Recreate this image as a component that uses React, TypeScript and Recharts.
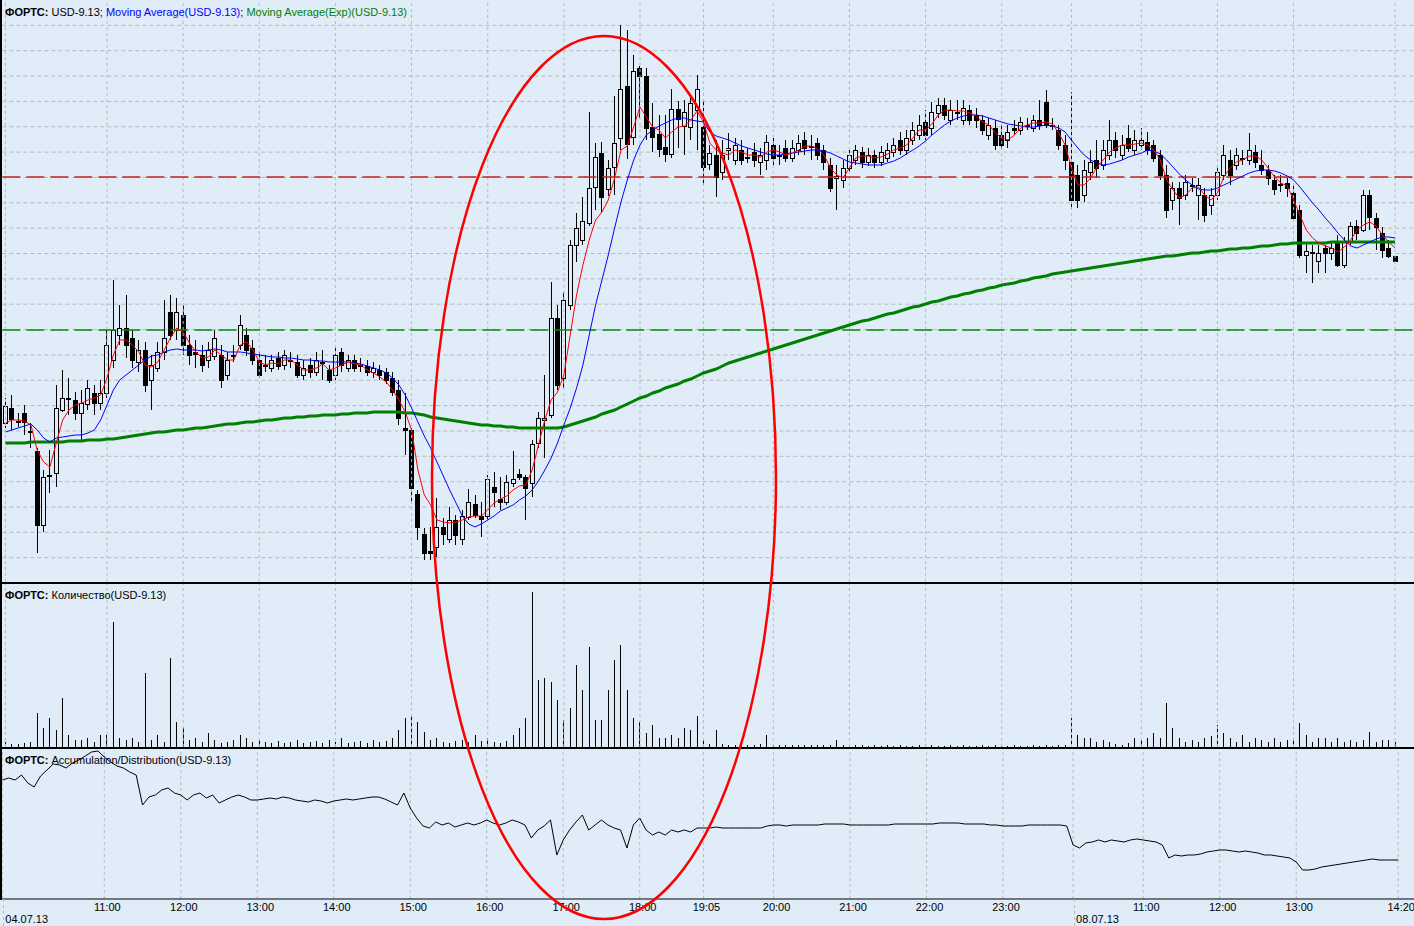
import { ComposedChart, Bar, Line, XAxis, YAxis, CartesianGrid, ReferenceLine } from "recharts";

// 5-minute candles, USD-9.13 (FORTS), 04.07.13 10:00 .. 08.07.13 14:20
const OPEN = [
  33177,33192,33179,33187,33169,33149,33075,33125,33127,33190,
  33202,33200,33187,33196,33207,33197,33207,33240,33265,33272,
  33262,33238,33250,33220,33232,33248,33288,33270,33285,33255,
  33248,33245,33240,33244,33245,33225,33245,33255,33265,33252,
  33240,33235,33232,33242,33235,33240,33238,33225,33235,33228,
  33238,33230,33225,33248,33232,33240,33235,33234,33228,33230,
  33228,33222,33210,33172,33170,33106,33066,33049,33053,33073,
  33061,33080,33061,33083,33096,33084,33084,33113,33101,33098,
  33117,33126,33123,33117,33157,33180,33185,33282,33222,33295,
  33355,33360,33377,33413,33447,33411,33433,33462,33514,33463,
  33532,33524,33473,33466,33453,33446,33491,33474,33473,33490,
  33473,33436,33445,33428,33450,33440,33450,33443,33448,33438,
  33440,33455,33445,33452,33442,33450,33460,33454,33457,33450,
  33435,33422,33420,33432,33440,33448,33438,33445,33438,33442,
  33448,33460,33450,33460,33465,33478,33472,33487,33495,33480,
  33488,33480,33490,33485,33480,33465,33472,33465,33460,33472,
  33470,33475,33472,33480,33498,33475,33470,33455,33438,33425,
  33405,33428,33440,33435,33445,33460,33445,33462,33450,33455,
  33458,33455,33445,33425,33400,33412,33405,33415,33405,33405,
  33395,33405,33425,33440,33435,33442,33440,33448,33435,33430,
  33420,33416,33417,33407,33390,33345,33348,33339,33352,33347,
  33357,33335,33358,33374,33370,33405,33382,33367,33352,33344,
];
const HIGH = [
  33202,33205,33187,33195,33177,33152,33130,33150,33215,33230,
  33222,33208,33210,33220,33215,33220,33270,33320,33295,33305,
  33270,33260,33258,33245,33258,33300,33305,33302,33295,33265,
  33260,33255,33258,33270,33255,33248,33255,33285,33272,33260,
  33248,33245,33245,33248,33250,33248,33245,33240,33242,33248,
  33250,33235,33252,33252,33245,33245,33242,33240,33238,33235,
  33232,33228,33220,33207,33172,33110,33072,33073,33102,33082,
  33093,33085,33090,33111,33105,33098,33125,33128,33123,33125,
  33149,33131,33125,33160,33188,33225,33318,33295,33308,33360,
  33387,33403,33488,33457,33458,33440,33504,33575,33570,33545,
  33534,33532,33497,33485,33485,33511,33499,33500,33505,33525,
  33500,33455,33460,33460,33467,33462,33460,33452,33457,33452,
  33465,33462,33455,33460,33460,33465,33468,33465,33462,33455,
  33442,33435,33440,33450,33455,33453,33452,33450,33454,33457,
  33462,33468,33470,33478,33485,33490,33498,33502,33502,33500,
  33500,33500,33495,33492,33485,33482,33480,33475,33475,33480,
  33483,33482,33485,33500,33510,33482,33475,33465,33508,33435,
  33440,33450,33460,33460,33480,33468,33465,33475,33470,33472,
  33468,33460,33450,33435,33418,33418,33425,33422,33422,33412,
  33412,33435,33455,33450,33452,33450,33467,33455,33450,33435,
  33425,33425,33422,33415,33395,33357,33355,33355,33355,33357,
  33365,33363,33378,33380,33410,33410,33387,33373,33360,33344,
];
const LOW = [
  33172,33170,33173,33165,33152,33047,33068,33107,33113,33188,
  33185,33180,33160,33190,33185,33190,33202,33232,33255,33242,
  33232,33228,33208,33190,33228,33240,33260,33260,33245,33235,
  33232,33228,33232,33240,33212,33220,33238,33250,33244,33235,
  33222,33228,33228,33230,33230,33232,33222,33220,33222,33224,
  33220,33217,33220,33228,33228,33228,33228,33224,33222,33220,
  33216,33204,33175,33145,33098,33060,33040,33040,33043,33055,
  33057,33055,33055,33080,33082,33063,33080,33093,33090,33095,
  33113,33120,33080,33103,33152,33142,33182,33210,33212,33290,
  33338,33355,33374,33390,33387,33404,33405,33450,33441,33455,
  33482,33460,33448,33443,33438,33442,33452,33445,33460,33450,
  33415,33430,33403,33420,33440,33435,33435,33437,33433,33425,
  33430,33435,33435,33438,33438,33445,33445,33440,33440,33430,
  33408,33390,33412,33428,33435,33432,33434,33432,33434,33438,
  33443,33445,33445,33455,33460,33460,33465,33482,33480,33475,
  33480,33475,33475,33472,33465,33460,33450,33450,33452,33465,
  33465,33470,33468,33470,33472,33470,33450,33430,33390,33392,
  33398,33420,33422,33430,33440,33442,33440,33448,33445,33450,
  33445,33438,33420,33382,33390,33375,33400,33408,33380,33378,
  33385,33400,33420,33415,33430,33435,33435,33432,33425,33415,
  33405,33408,33403,33380,33342,33327,33317,33327,33327,33340,
  33333,33332,33355,33360,33368,33370,33350,33342,33342,33338,
];
const CLOSE = [
  33194,33181,33178,33178,33168,33075,33123,33124,33192,33202,
  33201,33187,33197,33212,33197,33207,33255,33270,33272,33255,
  33240,33250,33215,33235,33248,33262,33265,33288,33255,33245,
  33246,33235,33250,33262,33220,33240,33244,33275,33250,33240,
  33225,33234,33240,33234,33245,33239,33225,33232,33228,33240,
  33237,33220,33245,33235,33240,33232,33234,33228,33232,33225,
  33220,33208,33182,33170,33112,33073,33047,33047,33073,33066,
  33080,33065,33084,33098,33085,33081,33121,33108,33098,33118,
  33121,33123,33112,33156,33182,33182,33282,33215,33300,33355,
  33372,33379,33412,33443,33403,33432,33457,33511,33456,33529,
  33524,33472,33463,33451,33446,33491,33481,33488,33497,33511,
  33433,33447,33423,33445,33452,33455,33440,33442,33440,33445,
  33458,33442,33444,33442,33452,33457,33452,33453,33445,33438,
  33412,33424,33432,33445,33450,33438,33445,33438,33448,33450,
  33455,33450,33462,33470,33475,33465,33488,33495,33485,33490,
  33487,33492,33480,33480,33470,33475,33455,33455,33468,33470,
  33478,33474,33480,33475,33475,33474,33455,33440,33400,33400,
  33430,33438,33432,33450,33460,33450,33455,33452,33460,33460,
  33450,33442,33425,33390,33412,33402,33418,33414,33415,33385,
  33405,33428,33445,33425,33445,33441,33450,33438,33430,33422,
  33411,33415,33412,33382,33345,33349,33347,33347,33347,33352,
  33335,33358,33374,33367,33405,33383,33373,33350,33344,33339,
];
// Moving Average (short, red)
const MA_FAST = [
  33177,33180,33180,33179,33175,33150,33138,33133,33157,33180,
  33190,33195,33197,33200,33202,33205,33222,33245,33260,33260,
  33255,33248,33235,33233,33238,33250,33262,33272,33268,33257,
  33248,33242,33243,33250,33245,33240,33240,33255,33258,33250,
  33238,33235,33237,33236,33240,33240,33235,33230,33230,33232,
  33236,33230,33232,33235,33238,33236,33235,33230,33227,33223,
  33218,33210,33200,33188,33170,33130,33105,33095,33080,33078,
  33077,33078,33080,33083,33084,33084,33090,33097,33101,33104,
  33110,33114,33115,33130,33155,33180,33200,33208,33225,33265,
  33305,33335,33360,33380,33388,33400,33422,33450,33454,33473,
  33493,33483,33473,33470,33462,33468,33473,33474,33480,33489,
  33478,33457,33450,33447,33445,33450,33448,33445,33445,33443,
  33448,33450,33448,33445,33447,33450,33454,33454,33451,33445,
  33432,33425,33422,33432,33442,33444,33444,33442,33443,33446,
  33450,33452,33455,33462,33470,33470,33476,33485,33490,33490,
  33489,33489,33487,33484,33478,33475,33467,33462,33460,33465,
  33472,33475,33477,33477,33478,33476,33467,33455,33432,33415,
  33415,33422,33433,33440,33448,33452,33455,33455,33456,33457,
  33455,33450,33440,33420,33410,33402,33405,33412,33413,33405,
  33400,33407,33423,33432,33438,33440,33444,33444,33440,33432,
  33423,33417,33414,33400,33385,33370,33362,33357,33354,33352,
  33348,33353,33360,33370,33375,33378,33374,33365,33358,33352,
];
// Moving Average (USD-9.13), blue
const MA_SLOW = [
  33168,33170,33172,33174,33176,33170,33162,33158,33162,33163,
  33164,33165,33165,33167,33170,33180,33195,33210,33220,33225,
  33230,33235,33240,33244,33245,33248,33250,33251,33250,33250,
  33250,33249,33250,33251,33250,33248,33248,33248,33247,33246,
  33245,33244,33243,33243,33242,33242,33241,33240,33240,33239,
  33239,33238,33238,33238,33238,33237,33236,33234,33232,33230,
  33227,33222,33215,33205,33192,33178,33164,33152,33138,33124,
  33110,33097,33084,33076,33073,33076,33080,33084,33089,33092,
  33095,33100,33104,33110,33119,33130,33142,33157,33175,33192,
  33212,33235,33265,33295,33320,33345,33372,33398,33420,33440,
  33455,33465,33470,33474,33477,33480,33482,33482,33480,33479,
  33478,33468,33464,33462,33460,33457,33454,33452,33450,33448,
  33446,33445,33445,33446,33447,33448,33449,33450,33450,33449,
  33447,33444,33441,33438,33437,33436,33435,33435,33435,33437,
  33439,33442,33446,33450,33454,33459,33465,33470,33475,33479,
  33482,33484,33485,33485,33484,33482,33480,33478,33476,33475,
  33474,33473,33473,33474,33475,33474,33472,33468,33460,33452,
  33445,33440,33437,33435,33436,33438,33440,33443,33445,33447,
  33450,33449,33446,33440,33433,33426,33420,33415,33411,33410,
  33410,33412,33415,33418,33421,33424,33427,33429,33430,33430,
  33429,33427,33424,33420,33413,33405,33397,33390,33382,33375,
  33367,33360,33354,33352,33355,33358,33361,33363,33363,33362,
];
// Moving Average (Exp), green
const MA_EXP = [
  33157,33157,33157,33157,33158,33158,33158,33158,33158,33158,
  33159,33159,33159,33160,33160,33160,33161,33161,33162,33163,
  33164,33165,33166,33167,33168,33168,33169,33170,33170,33171,
  33172,33172,33173,33174,33175,33176,33176,33177,33178,33178,
  33179,33180,33180,33181,33182,33182,33183,33183,33184,33184,
  33185,33185,33185,33186,33186,33187,33187,33187,33188,33188,
  33188,33188,33188,33187,33187,33186,33185,33183,33182,33181,
  33180,33179,33178,33177,33176,33175,33175,33174,33174,33173,
  33173,33172,33172,33172,33172,33172,33172,33172,33173,33175,
  33177,33179,33181,33183,33186,33188,33190,33193,33196,33199,
  33202,33204,33207,33209,33212,33214,33216,33219,33221,33224,
  33227,33229,33231,33234,33237,33239,33241,33243,33245,33247,
  33249,33251,33253,33255,33257,33259,33261,33263,33265,33267,
  33269,33271,33273,33275,33277,33279,33280,33282,33284,33286,
  33287,33289,33291,33293,33294,33296,33298,33299,33301,33303,
  33304,33306,33307,33309,33310,33312,33313,33315,33316,33317,
  33319,33320,33322,33323,33324,33326,33327,33328,33329,33330,
  33331,33332,33333,33334,33335,33336,33337,33338,33339,33340,
  33341,33342,33343,33344,33344,33345,33346,33347,33347,33348,
  33349,33349,33350,33351,33351,33352,33352,33353,33354,33354,
  33355,33356,33356,33357,33357,33357,33357,33357,33357,33358,
  33358,33358,33358,33358,33358,33358,33358,33358,33358,33358,
];
// Количество (contracts)
const VOLUME = [
  50,30,30,40,50,
  340,190,290,170,490,120,70,70,90,50,
  120,120,1250,90,70,90,50,740,70,120,
  50,890,250,190,70,90,50,140,70,40,
  50,70,120,90,50,70,50,40,60,40,
  50,70,40,50,60,40,70,50,90,40,
  50,60,40,70,50,60,90,170,290,310,
  250,150,70,90,50,40,60,70,50,120,
  60,90,50,40,60,120,190,290,1550,670,
  690,650,470,270,390,820,570,1000,270,270,
  570,870,1020,570,290,250,140,220,90,90,
  120,90,190,170,310,70,30,170,30,20,
  20,30,20,20,30,120,20,20,20,20,
  20,20,20,20,20,20,70,20,10,20,
  20,10,20,10,20,10,20,10,10,20,
  10,20,10,10,20,10,20,10,10,20,
  10,20,10,10,20,10,10,20,10,20,
  10,20,20,
  290,120,90,90,50,70,50,30,20,40,
  90,70,90,140,90,440,190,90,50,70,
  50,90,110,220,140,90,50,120,50,90,
  70,50,90,50,70,90,240,120,50,90,
  90,50,90,50,70,50,70,150,50,70,70,50,
];
// Accumulation/Distribution
const ACC_DIST = [
  11900,12100,11900,12400,11600,11200,12300,12900,13500,13400,
  13100,13600,13900,14300,14700,14800,14200,13700,13300,13100,
  12700,12400,9400,10200,10400,10900,11100,10600,10400,9900,
  10400,10600,10100,10400,9600,9900,10200,10400,10200,9900,
  9900,10000,10100,10000,10200,10100,9900,9800,9700,9900,
  9800,9600,9800,9900,10000,9900,10000,10100,10200,10200,
  10000,9700,9400,10600,9100,8100,7300,7100,7700,7400,
  7600,7200,7400,7600,7400,7600,7900,7600,7400,7600,
  7900,7700,7400,6100,6900,7300,7900,4400,5900,6900,
  7700,8400,6900,7400,7900,7400,7100,6900,5100,7400,
  8100,6900,6400,6700,6400,6900,6700,6900,6700,7100,
  7100,7100,7200,7100,7100,7100,7100,7100,7100,7100,
  7300,7400,7400,7300,7400,7400,7400,7400,7400,7500,
  7500,7500,7500,7400,7400,7400,7400,7400,7400,7400,
  7500,7500,7500,7500,7500,7500,7500,7600,7600,7600,
  7600,7500,7500,7500,7500,7400,7400,7300,7300,7300,
  7300,7400,7400,7400,7400,7400,7400,7300,5400,5100,
  5600,5700,5900,5700,5900,5800,5700,5900,6000,5900,
  5800,5700,5400,4100,4400,4300,4400,4400,4500,4700,
  4800,4900,4900,4800,4700,4800,4700,4600,4400,4400,
  4300,4200,4100,3700,2900,2900,3000,3200,3300,3400,
  3500,3600,3700,3800,3900,4000,3900,3900,3900,3900,
];

const TIME_TICKS = [16, 28, 40, 52, 64, 76, 88, 100, 110, 121, 133, 145, 157, 179, 191, 203, 219];
const TIME_LABELS = ["11:00", "12:00", "13:00", "14:00", "15:00", "16:00", "17:00", "18:00", "19:05", "20:00", "21:00", "22:00", "23:00", "11:00", "12:00", "13:00", "14:20"];
const DATE_TICKS = [0, 168];
const DATE_LABELS = ["04.07.13", "08.07.13"];
const LEVELS = [33423, 33270];

const BG = "#e1ecf9";
const GRID = "#b9b9b9";
const FONT = "'Liberation Sans', Arial, sans-serif";
const CHART_W = 1417.3;
const ML = 2.33;
const PAD = 3;

const rows: any[] = OPEN.map((o, i) => ({
  i,
  o,
  h: HIGH[i],
  l: LOW[i],
  c: CLOSE[i],
  range: [LOW[i], HIGH[i]],
  fast: MA_FAST[i],
  slow: MA_SLOW[i],
  exp: MA_EXP[i],
  vol: VOLUME[i],
  ad: ACC_DIST[i],
}));
for (let k = 0; k < PAD; k++) rows.push({ i: OPEN.length + k });

const ALL_TICKS = [...DATE_TICKS, ...TIME_TICKS].sort((a, b) => a - b);

const Candle = (props: any) => {
  const { x, y, width, height, payload } = props;
  if (!payload || payload.o == null) return null;
  const { o, h, l, c } = payload;
  const top = Math.min(y, y + height);
  const hgt = Math.abs(height);
  const toY = (v: number) => (h === l ? top : top + ((h - v) / (h - l)) * hgt);
  const cx = Math.floor(x + width / 2);
  const bTop = Math.round(toY(Math.max(o, c)));
  const bBot = Math.round(toY(Math.min(o, c)));
  const up = c > o;
  return (
    <g>
      <line x1={cx + 0.5} x2={cx + 0.5} y1={Math.round(top)} y2={Math.round(top + hgt)} stroke="#000" strokeWidth={1} />
      {bBot - bTop < 1 ? (
        <line x1={cx - 2} x2={cx + 3} y1={bTop + 0.5} y2={bTop + 0.5} stroke="#000" strokeWidth={1} />
      ) : up ? (
        <rect x={cx - 1.5} y={bTop + 0.5} width={4} height={bBot - bTop} fill={BG} stroke="#000" strokeWidth={1} />
      ) : (
        <rect x={cx - 2} y={bTop} width={5} height={bBot - bTop + 1} fill="#000" />
      )}
    </g>
  );
};

const VolStick = (props: any) => {
  const { x, y, width, height, payload } = props;
  if (!payload || payload.vol == null) return null;
  const cx = Math.floor(x + width / 2) + 0.5;
  return <line x1={cx} x2={cx} y1={Math.round(y)} y2={Math.round(y + height)} stroke="#000" strokeWidth={1} />;
};

const TimeTick = (props: any) => {
  const { x, y, payload } = props;
  const v = payload.value;
  const d = DATE_TICKS.indexOf(v);
  if (d >= 0) {
    return (
      <g>
        <line x1={Math.floor(x) + 1.5} x2={Math.floor(x) + 1.5} y1={y - 8} y2={y + 30} stroke={GRID} strokeDasharray="3 3" />
        <text x={x + 3} y={y + 16} fontSize={11} fontFamily={FONT} fill="#000">
          {DATE_LABELS[d]}
        </text>
      </g>
    );
  }
  const t = TIME_TICKS.indexOf(v);
  if (t < 0) return null;
  return (
    <text x={x + 3} y={y + 4} fontSize={11} fontFamily={FONT} fill="#000" textAnchor="middle">
      {TIME_LABELS[t]}
    </text>
  );
};

const vLines = () =>
  ALL_TICKS.map((t) => (
    <ReferenceLine key={"v" + t} x={t} stroke={GRID} strokeDasharray="3 3" ifOverflow="extendDomain" />
  ));

const priceGrid = Array.from({ length: 23 }, (_, k) => 25.35 * (k + 1));

const Title = ({ top, children }: any) => (
  <div style={{ position: "absolute", left: 5, top, fontFamily: FONT, fontSize: 11, lineHeight: "14px", whiteSpace: "nowrap" }}>
    <b>ФОРТС:</b> {children}
  </div>
);

export default function App() {
  return (
    <div style={{ position: "relative", width: 1414, height: 926, overflow: "hidden", background: BG }}>
      <style>{"body{margin:0}"}</style>

      {/* price panel */}
      <div style={{ position: "absolute", left: 0, top: 0 }}>
        <ComposedChart width={CHART_W} height={582} data={rows} margin={{ top: 0, right: 0, bottom: 0, left: ML }}>
          <CartesianGrid vertical={false} horizontalPoints={priceGrid} stroke={GRID} strokeDasharray="4 3" />
          <XAxis dataKey="i" type="category" hide />
          <YAxis hide domain={[33018, 33600]} allowDataOverflow />
          {vLines()}
          <ReferenceLine y={LEVELS[0]} stroke="#c8201e" strokeWidth={1.5} strokeDasharray="18 6" />
          <ReferenceLine y={LEVELS[1]} stroke="#0a8a0a" strokeWidth={1.5} strokeDasharray="18 6" />
          <Bar dataKey="range" shape={(p: any) => <Candle {...p} />} isAnimationActive={false} />
          <Line dataKey="exp" stroke="#008000" strokeWidth={3} dot={false} isAnimationActive={false} />
          <Line dataKey="slow" stroke="#0000ff" strokeWidth={1} dot={false} isAnimationActive={false} />
          <Line dataKey="fast" stroke="#ff0000" strokeWidth={1} dot={false} isAnimationActive={false} />
        </ComposedChart>
      </div>

      {/* volume panel */}
      <div style={{ position: "absolute", left: 0, top: 584 }}>
        <ComposedChart width={CHART_W} height={163} data={rows} margin={{ top: 0, right: 0, bottom: 0, left: ML }}>
          <XAxis dataKey="i" type="category" hide />
          <YAxis hide domain={[0, 1630]} allowDataOverflow />
          {vLines()}
          <Bar dataKey="vol" shape={(p: any) => <VolStick {...p} />} isAnimationActive={false} />
        </ComposedChart>
      </div>

      {/* accumulation / distribution panel */}
      <div style={{ position: "absolute", left: 0, top: 749 }}>
        <ComposedChart width={CHART_W} height={177} data={rows} margin={{ top: 0, right: 0, bottom: 0, left: ML }}>
          <XAxis
            dataKey="i"
            type="category"
            height={27}
            ticks={ALL_TICKS}
            interval={0}
            tickLine={false}
            axisLine={{ stroke: "#000", strokeWidth: 1 }}
            tick={(p: any) => <TimeTick {...p} />}
          />
          <YAxis hide domain={[0, 15000]} allowDataOverflow />
          {vLines()}
          <Line dataKey="ad" stroke="#000" strokeWidth={1} dot={false} isAnimationActive={false} />
        </ComposedChart>
      </div>

      {/* frame */}
      <div style={{ position: "absolute", left: 0, top: 0, width: 2, height: 900, background: "#000" }} />
      <div style={{ position: "absolute", left: 0, top: 582, width: 1414, height: 2, background: "#000" }} />
      <div style={{ position: "absolute", left: 0, top: 747, width: 1414, height: 2, background: "#000" }} />

      <div style={{ position: "absolute", left: 5, top: 5, fontFamily: FONT, fontSize: 11, lineHeight: "14px", whiteSpace: "nowrap" }}>
        <b>ФОРТС:</b> USD-9.13; <span style={{ color: "#0000ff" }}>Moving Average(USD-9.13)</span>;{" "}
        <span style={{ color: "#008000" }}>Moving Average(Exp)(USD-9.13)</span>
      </div>
      <Title top={588}>Количество(USD-9.13)</Title>
      <Title top={753}>Accumulation/Distribution(USD-9.13)</Title>

      {/* annotation */}
      <svg width={1414} height={926} style={{ position: "absolute", left: 0, top: 0, pointerEvents: "none" }}>
        <ellipse cx={604} cy={477.5} rx={172} ry={441.5} fill="none" stroke="#ff0000" strokeWidth={2.5} />
      </svg>
    </div>
  );
}
